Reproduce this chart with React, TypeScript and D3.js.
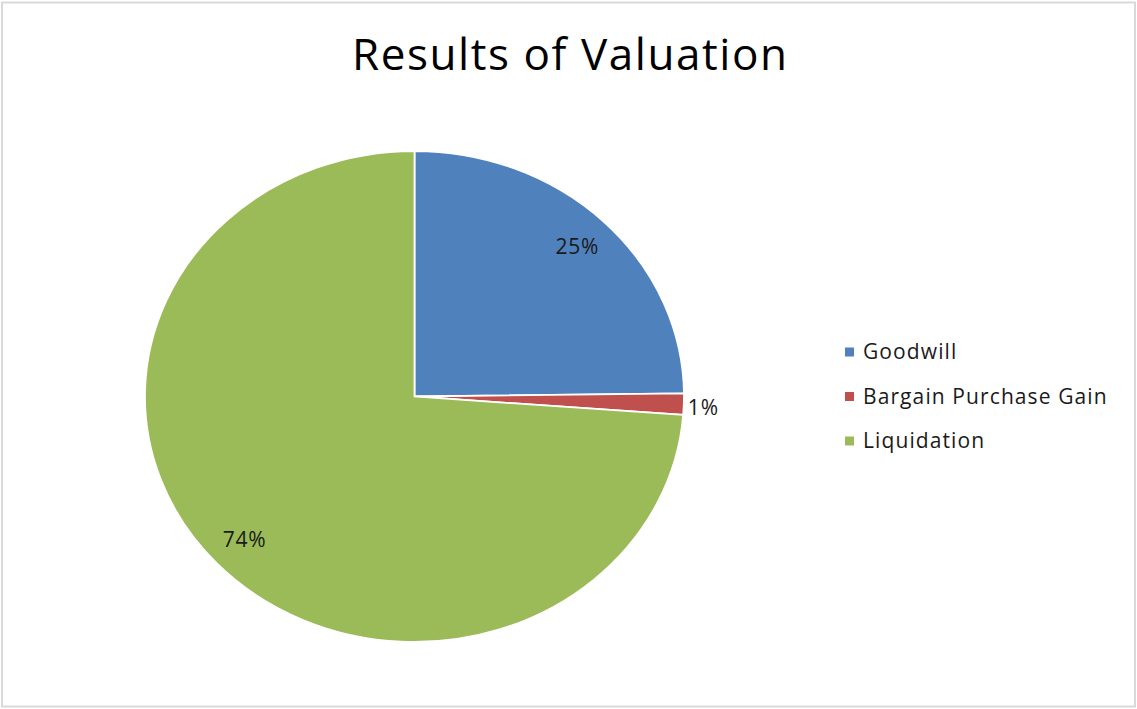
import React from "react";
import * as d3 from "d3";

const categories = ["Goodwill", "Bargain Purchase Gain", "Liquidation"];
const values = [24.8, 1.4, 73.8];
const labels = ["25%", "1%", "74%"];
const colors = ["#4f81bd", "#c0504d", "#9bbb59"];
const title = "Results of Valuation";

const W = 1137;
const H = 709;
const cx = 414.5;
const cy = 396.5;
const rx = 269.5;
const ry = 245.5;
const FONT = "'Open Sans', 'Noto Sans', sans-serif";

export default function App() {
  const data = categories.map((c, i) => ({ c, v: values[i], label: labels[i], color: colors[i] }));
  const pie = d3.pie<any>().sort(null).value((d: any) => d.v);
  const arcs = pie(data);
  const arc = d3.arc<any>().innerRadius(0).outerRadius(1);

  const labelPos = (a: any, i: number) => {
    const mid = (a.startAngle + a.endAngle) / 2;
    if (i === 1) {
      return { x: cx + rx * Math.sin(mid) + 4, y: cy - ry * Math.cos(mid) + 3, anchor: "start" };
    }
    const r = 0.86;
    return { x: cx + rx * r * Math.sin(mid), y: cy - ry * r * Math.cos(mid), anchor: "middle" };
  };

  return (
    <div style={{ position: "absolute", left: 0, top: 0 }}>
      <svg width={W} height={H} style={{ display: "block" }}>
        <rect x={0} y={0} width={W} height={H} fill="#ffffff" />
        <rect x={2} y={2.5} width={W - 4} height={H - 5} fill="none" stroke="#d9d9d9" strokeWidth={2} />
        <text
          x={569.5}
          y={70}
          textAnchor="middle"
          fontFamily={FONT}
          fontSize={44}
          textLength={435}
          lengthAdjust="spacing"
          fill="#000"
        >
          {title}
        </text>
        <g transform={`translate(${cx},${cy}) scale(${rx},${ry})`}>
          {arcs.map((a, i) => (
            <path
              key={i}
              d={arc(a) as string}
              fill={a.data.color}
              stroke="#ffffff"
              strokeWidth={1.8}
              vectorEffect="non-scaling-stroke"
            />
          ))}
        </g>
        {arcs.map((a, i) => {
          const p = labelPos(a, i);
          return (
            <text
              key={i}
              x={p.x}
              y={p.y}
              dy="0.35em"
              textAnchor={p.anchor as any}
              fontFamily={FONT}
              fontSize={21}
              letterSpacing={0.8}
              fill="#1a1a1a"
            >
              {a.data.label}
            </text>
          );
        })}
        {data.map((d, i) => {
          const y = 352 + i * 44.5;
          return (
            <g key={i}>
              <rect x={845} y={y - 4.5} width={9} height={9} fill={d.color} />
              <text x={863} y={y} dy="0.35em" fontFamily={FONT} fontSize={21} letterSpacing={1.1} fill="#1a1a1a">
                {d.c}
              </text>
            </g>
          );
        })}
      </svg>
    </div>
  );
}
